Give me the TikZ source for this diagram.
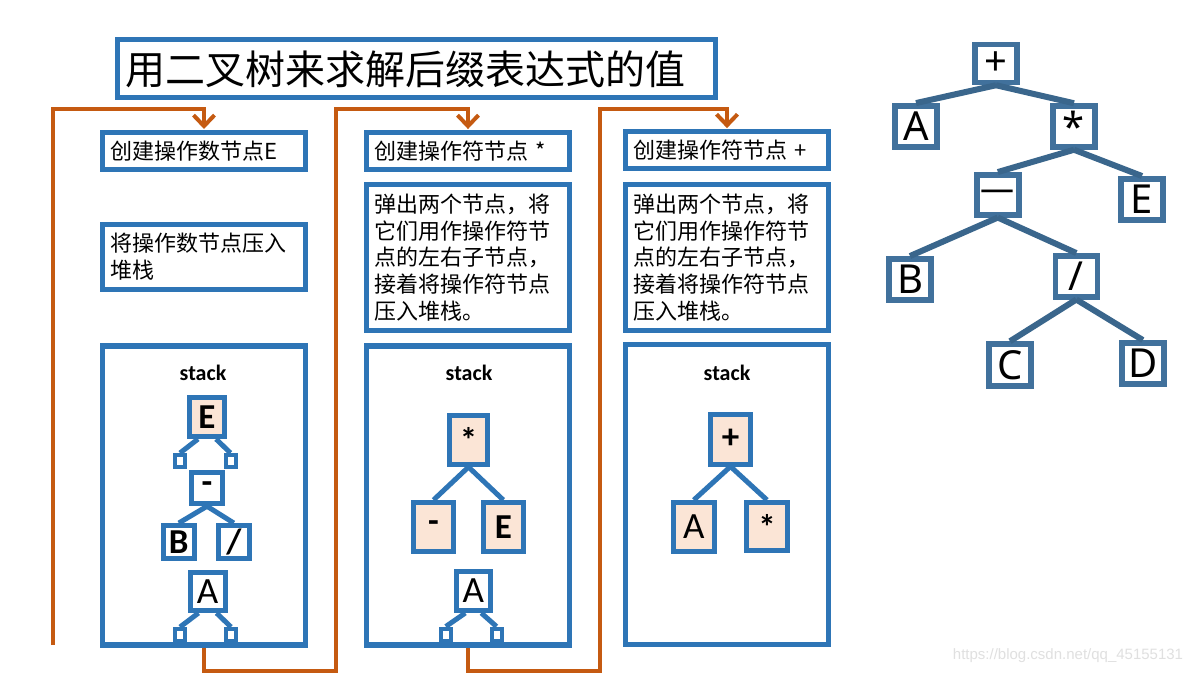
\documentclass[tikz,border=0pt]{standalone}
\usepackage{fontspec}
\newfontfamily\cjk{Noto Sans CJK SC}
\newfontfamily\calib{Carlito}
\newfontfamily\nsans{Noto Sans}
\newfontfamily\libsans{Liberation Sans}
\usetikzlibrary{arrows.meta}
\definecolor{bblue}{HTML}{2E75B6}
\definecolor{rblue}{HTML}{41719C}
\definecolor{orng}{HTML}{C55A11}
\definecolor{peach}{HTML}{FBE5D6}
\tikzset{
 tbox/.style={draw=bblue, line width=5pt, fill=white, align=left, inner xsep=8pt, inner ysep=2pt,
   minimum width=203pt, text width=187pt, font=\cjk\fontsize{22}{26.7}\selectfont},
 stk/.style={draw=bblue, line width=5.5pt, minimum width=203pt, minimum height=299pt, inner sep=0pt},
 stklbl/.style={font=\calib\bfseries\fontsize{22}{22}\selectfont},
 sn/.style={draw=bblue, line width=5pt, inner sep=0pt, font=\calib\bfseries\fontsize{35}{35}\selectfont},
 snA/.style={sn, font=\calib\fontsize{37}{37}\selectfont},
 stub/.style={draw=bblue, line width=4pt, minimum width=10pt, minimum height=12pt, inner sep=0pt},
 sl/.style={draw=bblue, line width=5pt},
 rn/.style={draw=rblue, line width=5.5pt, fill=white, minimum width=42pt, minimum height=41pt, inner sep=0pt,
   font=\nsans\fontsize{40}{40}\selectfont},
 rl/.style={draw=rblue!90!black, line width=6pt},
 flow/.style={draw=orng, line width=4pt, -{Straight Barb[length=11pt,width=21pt]}},
}
\begin{document}
\begin{tikzpicture}[x=1pt,y=-1pt]
\useasboundingbox (0,0) rectangle (1198,674);
\fill[white] (0,0) rectangle (1198,674);

% title
\node[tbox, minimum width=598pt, minimum height=58pt, text width=582pt,
  font=\cjk\fontsize{40}{40}\selectfont] (title) at (416.5,69) {用二叉树来求解后缀表达式的值};

% column 1
\node[tbox, minimum height=37pt] (c1a) at (204,151) {创建操作数节点E};
\node[tbox, minimum height=64.5pt] (c1b) at (204,256.8) {将操作数节点压入\\堆栈};
\node[stk] (st1) at (204,495.5) {};
\node[stklbl] (l1) at (203,373) {stack};

% column 2
\node[tbox, minimum height=36.5pt] (c2a) at (468,150.8) {创建操作符节点 *};
\node[tbox, minimum height=146pt] (c2b) at (468,257.5) {弹出两个节点，将\\它们用作操作符节\\点的左右子节点，\\接着将操作符节点\\压入堆栈。};
\node[stk] (st2) at (468,495.5) {};
\node[stklbl] (l2) at (469,373) {stack};

% column 3
\node[tbox, minimum height=36.7pt] (c3a) at (727,150) {创建操作符节点 +};
\node[tbox, minimum height=145.7pt] (c3b) at (727,257.4) {弹出两个节点，将\\它们用作操作符节\\点的左右子节点，\\接着将操作符节点\\压入堆栈。};
\node[stk, minimum height=300pt] (st3) at (727,494.5) {};
\node[stklbl] (l3) at (727,373) {stack};

% stack 1 contents
\node[stub] (e1l) at (180,461) {};
\node[stub] (e1r) at (230.5,461) {};
\node[sn, fill=peach, minimum width=35pt, minimum height=39pt] (e1) at (207,417) {E};
\draw[sl] ([xshift=-9pt]e1.south) -- (e1l.north);
\draw[sl] ([xshift=9pt]e1.south) -- (e1r.north);
\node[sn, fill=white, minimum width=31pt, minimum height=31.5pt] (m1) at (207,488) {-};
\node[sn, fill=white, minimum width=30.5pt, minimum height=32.5pt] (b1) at (178.8,541.8) {B};
\node[sn, fill=white, minimum width=30.5pt, minimum height=32.5pt] (d1) at (233.8,541.8) {/};
\draw[sl] (m1.south) -- (b1.north);
\draw[sl] (m1.south) -- (d1.north);
\node[stub] (a1l) at (180,635) {};
\node[stub] (a1r) at (231,635) {};
\node[snA, fill=white, minimum width=35pt, minimum height=38pt] (a1) at (207.5,591.5) {A};
\draw[sl] ([xshift=-9pt]a1.south) -- (a1l.north);
\draw[sl] ([xshift=9pt]a1.south) -- (a1r.north);

% stack 2 contents
\node[sn, fill=peach, minimum width=38pt, minimum height=49pt] (p2) at (468.5,440) {*};
\node[sn, fill=peach, minimum width=40pt, minimum height=49pt] (m2) at (433.5,527) {-};
\node[sn, fill=peach, minimum width=40pt, minimum height=49pt] (e2) at (503.3,527) {E};
\draw[sl] (p2.south) -- (m2.north);
\draw[sl] (p2.south) -- (e2.north);
\node[stub] (a2l) at (445.8,634.5) {};
\node[stub] (a2r) at (496.5,634.5) {};
\node[snA, fill=white, minimum width=33.5pt, minimum height=39pt] (a2) at (473.3,591) {A};
\draw[sl] ([xshift=-8pt]a2.south) -- (a2l.north);
\draw[sl] ([xshift=8pt]a2.south) -- (a2r.north);

% stack 3 contents
\node[sn, fill=peach, minimum width=40pt, minimum height=50pt] (p3) at (730.5,439) {+};
\node[snA, fill=peach, minimum width=40.5pt, minimum height=49pt] (a3) at (693.8,527) {A};
\node[sn, fill=peach, minimum width=41pt, minimum height=48pt] (s3) at (767,526.5) {*};
\draw[sl] (p3.south) -- (a3.north);
\draw[sl] (p3.south) -- (s3.north);

% orange flow
\coordinate (o1) at (53,645);
\draw[flow, shorten >=1pt] (o1) -- (53,109) -| (c1a.north);
\draw[flow, shorten >=1pt] (st1.south) -- ++(0,23) -| (336,109) -| (c2a.north);
\draw[flow, shorten >=1pt] (st2.south) -- ++(0,23) -| (600,109) -| (c3a.north);

% right tree
\node[rn, minimum height=38pt] (rp) at (996,63.5) {+};
\node[rn] (ra) at (916,126.3) {A};
\node[rn] (rs) at (1074,126.5) {*};
\node[rn, minimum height=40pt, font=\nsans\fontsize{34}{34}\selectfont] (rm) at (997.8,194.8) {—};
\node[rn] (re) at (1142,199.3) {E};
\node[rn] (rb) at (910,279.3) {B};
\node[rn] (rd) at (1076.3,276.3) {/};
\node[rn, minimum height=42pt] (rc) at (1010,365) {C};
\node[rn] (rD) at (1142.8,363.3) {D};
\draw[rl] (rp.south) -- (ra.north);
\draw[rl] (rp.south) -- (rs.north);
\draw[rl] (rs.south) -- (rm.north);
\draw[rl] (rs.south) -- (re.north);
\draw[rl] (rm.south) -- (rb.north);
\draw[rl] (rm.south) -- (rd.north);
\draw[rl] (rd.south) -- (rc.north);
\draw[rl] (rd.south) -- (rD.north);

% watermark
\node[font=\libsans\fontsize{15}{15}\selectfont, text=black!12] (wm) at (1068,656) {https://blog.csdn.net/qq\_45155131};
\end{tikzpicture}
\end{document}
